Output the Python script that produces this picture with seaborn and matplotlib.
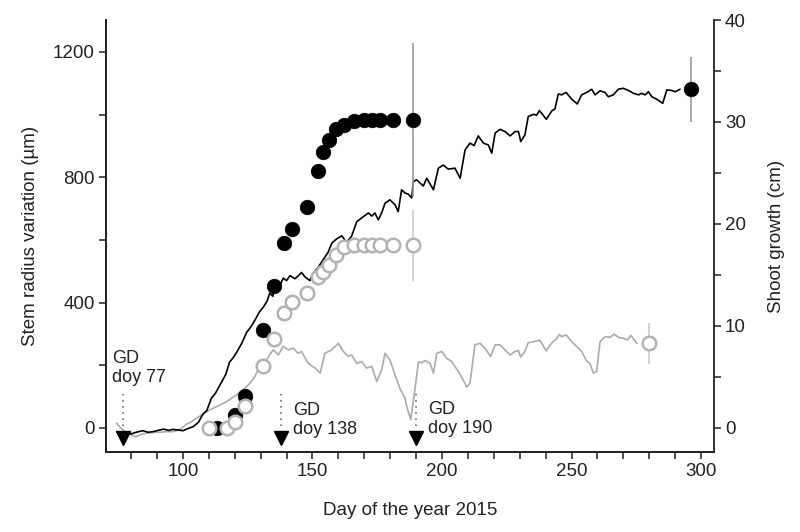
import numpy as np
import pandas as pd
import matplotlib
matplotlib.use("Agg")
import matplotlib.pyplot as plt
from matplotlib.ticker import MultipleLocator
import seaborn as sns

# stem radius variation (um), black tree
black_days = [74.5, 76, 78, 80, 82, 84.5, 86.5, 88.5, 90.5, 92.5, 94.5, 96, 97.5, 100, 102, 104, 106,
              107.8, 109.2, 111, 112.5, 114.5, 116.5, 118, 119.5, 121, 122.7, 124.6, 126, 127.1, 128.2,
              129.5, 131, 132.5, 133.5, 134.7, 135.9, 137.5, 138.7, 140, 141.3, 143.2, 144.5, 145.8,
              147.1, 149, 150, 152, 154, 156, 157.5, 159.3, 161.3, 163.2, 165.1, 167.1, 169.6, 171.6,
              172.9, 174.1, 175.4, 176.7, 178, 179.9, 181.9, 183.1, 183.8, 184.4, 185.7, 187, 188.3,
              188.9, 190.2, 191.5, 192.8, 194.1, 196.7, 198.6, 200.5, 202.4, 205, 207, 208.9, 210.8,
              212.4, 214, 216, 217.9, 219.2, 220.5, 222.4, 224.3, 226.3, 228.2, 229.5, 230.4, 232,
              233.3, 235.3, 236.5, 237.6, 240.3, 242.4, 243.6, 244.9, 246.2, 247.9, 250.1, 252.2,
              253.9, 255.9, 257.8, 259.1, 261, 262.9, 264.2, 266.1, 268.1, 270, 272, 273.9, 275.9,
              277.1, 278.4, 279.7, 281, 282.9, 285.2, 286.8, 288.7, 290, 291.9]
black_um = [-12, -19, -20, -19, -14, -9, -14, -12, -8, -4, -8, -5, -6, -9, -2, 4, 18,
            45, 55, 95, 110, 140, 170, 210, 225, 245, 270, 305, 320, 334, 350,
            370, 385, 405, 430, 420, 464, 456, 478, 470, 486, 476, 485, 496,
            482, 470, 490, 510, 535, 560, 590, 603, 613, 592, 612, 658, 674, 686,
            676, 686, 664, 686, 717, 728, 712, 690, 728, 760, 750, 746, 734,
            786, 792, 782, 772, 797, 760, 829, 839, 826, 829, 797, 887, 909,
            901, 932, 909, 903, 877, 941, 953, 946, 932, 946, 946, 914, 935,
            994, 1001, 998, 1013, 985, 1012, 1018, 1066, 1063, 1071, 1049, 1034,
            1063, 1071, 1081, 1063, 1076, 1071, 1057, 1063, 1081, 1084, 1077, 1068, 1063,
            1068, 1063, 1073, 1057, 1049, 1036, 1079, 1077, 1073, 1081]

# stem radius variation (um), grey tree
grey_days = [74.4, 75.7, 77.6, 80, 82, 84, 86, 88.5, 91, 93.5, 96.3, 98, 99.5, 101.4, 103, 105.3,
             107, 109.2, 111, 113, 115, 116.9, 118.8, 120.7, 122.6, 124.6, 125.9, 127.8, 129.7,
             131, 132.3, 133.6, 134.9, 136.8, 138.7, 140.7, 142.6, 144.5, 145.8, 147, 148.4, 150,
             151, 153, 154.8, 157.4, 160, 161.9, 163.8, 165.1, 167.1, 169, 170.9, 172.9, 174.8,
             176.7, 178, 179.9, 181.9, 183.8, 185.7, 186.4, 187.9, 189.6, 190.9, 192.2, 193.4,
             195.4, 196.7, 198, 199.9, 201.8, 203.7, 206.3, 208.2, 209.5, 210.8, 212.7, 214.7,
             216.6, 218.8, 220.5, 222.4, 224.3, 226.3, 228.2, 229.5, 230.4, 232, 233.3, 235.3,
             237.8, 240.2, 242.3, 244.2, 245.3, 246.2, 247.9, 250.1, 252, 253.9, 255.9, 257.1,
             258.4, 259.7, 261, 262.9, 264.9, 266.4, 268.1, 270, 271.6, 272.9, 275.2]
grey_um = [15, 2, -12, -22, -28, -20, -17, -15, -14, -12, -12, -8, -1, 12, 18, 31,
           40, 52, 60, 68, 76, 84, 95, 105, 118, 132, 143, 164, 200,
           210, 217, 235, 249, 233, 260, 249, 254, 238, 244, 225, 206, 196,
           191, 175, 238, 249, 270, 244, 228, 233, 206, 212, 191, 196, 148,
           185, 238, 217, 169, 125, 95, 68, 26, 125, 210, 208, 215,
           206, 175, 238, 244, 222, 212, 180, 153, 130, 143, 265, 270,
           254, 228, 265, 265, 249, 233, 244, 247, 226, 244, 272, 275,
           280, 246, 270, 285, 298, 291, 297, 275, 260, 244, 212, 206,
           175, 180, 275, 291, 289, 299, 289, 286, 281, 295, 270]

# shoot growth (cm)
shoot_black_days = [113, 120, 124, 131, 135, 139, 142, 148, 152, 154, 156.5, 159, 162, 166, 170, 173,
                    176, 181, 189, 296]
shoot_black_cm = [0, 1.3, 3.1, 9.6, 13.9, 18.1, 19.5, 21.7, 25.2, 27.1, 28.2, 29.3, 29.7, 30.1, 30.2,
                  30.2, 30.2, 30.2, 30.2, 33.2]
shoot_grey_days = [110, 117, 120, 124, 131, 135, 139, 142, 148, 152, 154, 156.5, 159, 162, 166, 170,
                   173, 176, 181, 189, 280]
shoot_grey_cm = [0, 0, 0.6, 2.1, 6.1, 8.7, 11.3, 12.3, 13.2, 14.8, 15.3, 16.0, 17.0, 17.7, 17.9, 17.9,
                 17.9, 17.9, 17.9, 17.9, 8.3]

# error bars on the final shoot measurements
err_black_days = [189, 296]
err_black_cm = [30.2, 33.2]
err_black_sd = [7.5, 3.2]
err_grey_days = [189, 280]
err_grey_cm = [17.9, 8.3]
err_grey_sd = [3.5, 2.0]

gd_days = [77, 138, 190]
gd_labels = ["GD\ndoy 77", "GD\ndoy 138", "GD\ndoy 190"]

sns.set_style("ticks")
plt.rcParams["font.family"] = ["Liberation Sans", "DejaVu Sans"]

fig = plt.figure(figsize=(8, 5.32), dpi=100)
ax = fig.add_axes([0.1325, 0.1504, 0.76, 0.812])
ax2 = ax.twinx()

line_df = pd.concat([
    pd.DataFrame({"day": grey_days, "um": grey_um, "tree": "grey"}),
    pd.DataFrame({"day": black_days, "um": black_um, "tree": "black"}),
])
sns.lineplot(data=line_df, x="day", y="um", hue="tree", palette={"grey": "#ababab", "black": "black"},
             estimator=None, sort=False, linewidth=1.2, legend=False, ax=ax)

# GD markers
for d, lab, dx, ty in zip(gd_days, gd_labels, [-4.5, 4.5, 4.5], [250, 82, 85]):
    ax.plot([d, d], [5, 110], color="#555555", linestyle=(0, (1, 3)), linewidth=1.1)
    ax.plot(d, -32, marker="v", color="black", markersize=10, linestyle="none", clip_on=False)
    ax.text(d + dx, ty, lab, fontsize=13, va="top", ha="left", linespacing=1.15, color="#222222")

# shoot growth on right axis
ax2.errorbar(err_black_days, err_black_cm, yerr=err_black_sd, fmt="none", ecolor="#999999",
             elinewidth=1.2, capsize=0, zorder=1)
ax2.errorbar(err_grey_days, err_grey_cm, yerr=err_grey_sd, fmt="none", ecolor="#cccccc",
             elinewidth=1.2, capsize=0, zorder=1)
sns.scatterplot(x=shoot_black_days, y=shoot_black_cm, color="black", s=110, edgecolor="black",
                linewidth=0.5, zorder=3, ax=ax2)
sns.scatterplot(x=shoot_grey_days, y=shoot_grey_cm, color="white", s=95, edgecolor="#b3b3b3",
                linewidth=1.8, zorder=4, ax=ax2)

ax.set_xlim(70.3, 305)
ax.set_ylim(-77, 1302)
ax2.set_ylim(-2.37, 40)

ax.xaxis.set_major_locator(MultipleLocator(50))
ax.xaxis.set_minor_locator(MultipleLocator(10))
ax.yaxis.set_major_locator(MultipleLocator(400))
ax.yaxis.set_minor_locator(MultipleLocator(200))
ax2.yaxis.set_major_locator(MultipleLocator(10))
ax2.yaxis.set_minor_locator(MultipleLocator(5))

for a in (ax, ax2):
    a.tick_params(which="both", direction="out", length=5, width=1.1, labelsize=13.5,
                  colors="#222222", pad=3)
    a.spines["top"].set_visible(False)
    for s in ("left", "right", "bottom"):
        a.spines[s].set_linewidth(1.3)
        a.spines[s].set_color("#222222")
ax.spines["right"].set_visible(False)

ax.set_xlabel("Day of the year 2015", fontsize=13.5, color="#222222", labelpad=16)
ax.set_ylabel("Stem radius variation (µm)", fontsize=13.5, color="#222222", labelpad=10)
ax2.set_ylabel("Shoot growth (cm)", fontsize=13.5, color="#222222", labelpad=16)

fig.savefig("out.png", dpi=100)
